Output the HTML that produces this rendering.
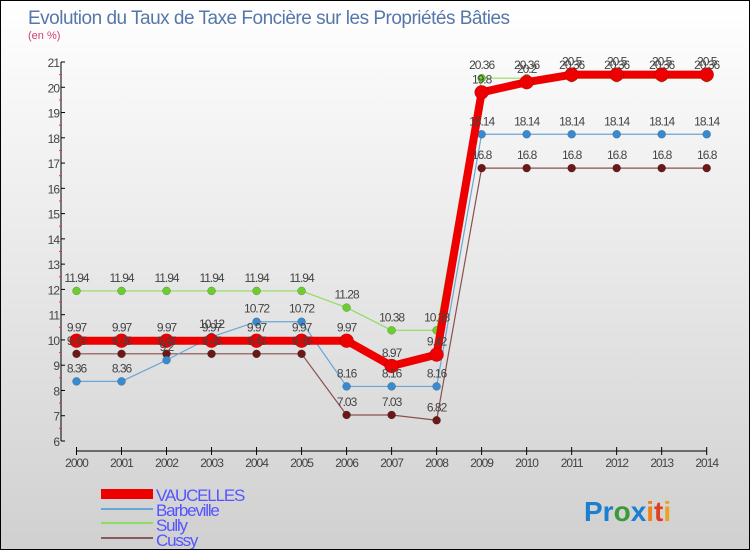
<!DOCTYPE html>
<html><head><meta charset="utf-8"><style>
body{margin:0;width:750px;height:550px;overflow:hidden;font-family:"Liberation Sans",sans-serif}
#wrap{position:relative;width:748px;height:548px;border:1px solid #000;background:linear-gradient(#fff,#d0d0d0)}
</style></head><body>
<div id="wrap">
<svg id="chart" width="748" height="548">
<text x="27" y="23" font-size="19" fill="#5577aa" letter-spacing="-0.5">Evolution du Taux de Taxe Foncière sur les Propriétés Bâties</text>
<text x="27" y="38" font-size="11" fill="#d04070">(en %)</text>
<g id="axes"></g><g id="series"></g><g id="labels"></g>
<g>
<rect x="100" y="488" width="52" height="10" fill="#e00"/>
<text x="155" y="500" font-size="17" letter-spacing="-1.2" fill="#55f">VAUCELLES</text>
<line x1="100" y1="508" x2="152" y2="508" stroke="#6aa6d6" stroke-width="2"/>
<text x="155" y="515" font-size="17" letter-spacing="-1.2" fill="#55f">Barbeville</text>
<line x1="100" y1="522" x2="152" y2="522" stroke="#8edd60" stroke-width="2"/>
<text x="155" y="530" font-size="17" letter-spacing="-1.2" fill="#55f">Sully</text>
<line x1="100" y1="537" x2="152" y2="537" stroke="#8a5a5a" stroke-width="2"/>
<text x="155" y="545" font-size="17" letter-spacing="-1.2" fill="#55f">Cussy</text>
</g>
<text x="583" y="520" font-size="28" font-weight="bold"><tspan fill="#1a7fd0">Pr</tspan><tspan fill="#3a9a3a">o</tspan><tspan fill="#1a7fd0">x</tspan><tspan fill="#f08020">i</tspan><tspan fill="#e04020">t</tspan><tspan fill="#f0a020">i</tspan></text>
</svg></div>
<script>
const years=[2000,2001,2002,2003,2004,2005,2006,2007,2008,2009,2010,2011,2012,2013,2014];
const vaucelles=[9.97,9.97,9.97,9.97,9.97,9.97,9.97,8.97,9.42,19.8,20.2,20.5,20.5,20.5,20.5];
const barbeville=[8.36,8.36,9.2,10.12,10.72,10.72,8.16,8.16,8.16,18.14,18.14,18.14,18.14,18.14,18.14];
const sully=[11.94,11.94,11.94,11.94,11.94,11.94,11.28,10.38,10.38,20.36,20.36,20.36,20.36,20.36,20.36];
const cussy=[9.45,9.45,9.45,9.45,9.45,9.45,7.03,7.03,6.82,16.8,16.8,16.8,16.8,16.8,16.8];
const yTicks=[6,7,8,9,10,11,12,13,14,15,16,17,18,19,20,21];
const NS="http://www.w3.org/2000/svg";
const x=i=>75.5+i*(705.7-75.5)/(years.length-1);
const y=v=>440-(v-6)*(440-61)/15;
function mk(t,a,p){const e=document.createElementNS(NS,t);for(const k in a)e.setAttribute(k,a[k]);p.appendChild(e);return e;}
const ax=document.getElementById('axes'),sg=document.getElementById('series'),lg=document.getElementById('labels');
const yl=mk('line',{x1:60,y1:61,x2:60,y2:440,stroke:'#000'},ax);


yTicks.forEach(v=>{
 mk('line',{x1:60,y1:y(v),x2:64,y2:y(v),stroke:'#000'},ax);
 if(v<21) mk('line',{x1:58,y1:y(v+0.5),x2:61,y2:y(v+0.5),stroke:'#e33'},ax);
 const t=mk('text',{x:58,y:y(v)+5,'font-size':12,fill:'#444','text-anchor':'end','letter-spacing':'-1'},ax);
 t.textContent=v;
 
 
});
const xl=mk('line',{x1:75.5,y1:450,x2:705.7,y2:450,stroke:'#000'},ax);


years.forEach((yr,i)=>{
 mk('line',{x1:x(i),y1:446,x2:x(i),y2:454,stroke:'#000'},ax);
 const t=mk('text',{x:x(i),y:466,'font-size':12,fill:'#444','text-anchor':'middle','letter-spacing':'-1'},ax);
 t.textContent=yr;
 
 
});
function draw(name,vals,col,w,r,dot){
 const p=mk('polyline',{points:vals.map((v,i)=>x(i)+','+y(v)).join(' '),fill:'none',stroke:col,'stroke-width':w,'stroke-linejoin':'round'},sg);
 
 
 vals.forEach((v,i)=>{
  const c=mk('circle',{cx:x(i),cy:y(v),r:r,fill:dot,stroke:'rgba(0,0,0,0.3)','stroke-width':0.5},sg);
  
  
  const t=mk('text',{x:x(i),y:y(v)-9,'font-size':12,fill:'#444','text-anchor':'middle','letter-spacing':'-1'},lg);
  t.textContent=v;
  
  
 });
}
draw('cussy',cussy,'#8a5050',1.2,4,'#6a1818');
draw('sully',sully,'#8edd60',1.2,4,'#6ccc30');
draw('barbeville',barbeville,'#6aa6d6',1.2,4,'#3a8ad0');
draw('vaucelles',vaucelles,'#ee0000',8,7,'#ee0000');
</script>
</body></html>
